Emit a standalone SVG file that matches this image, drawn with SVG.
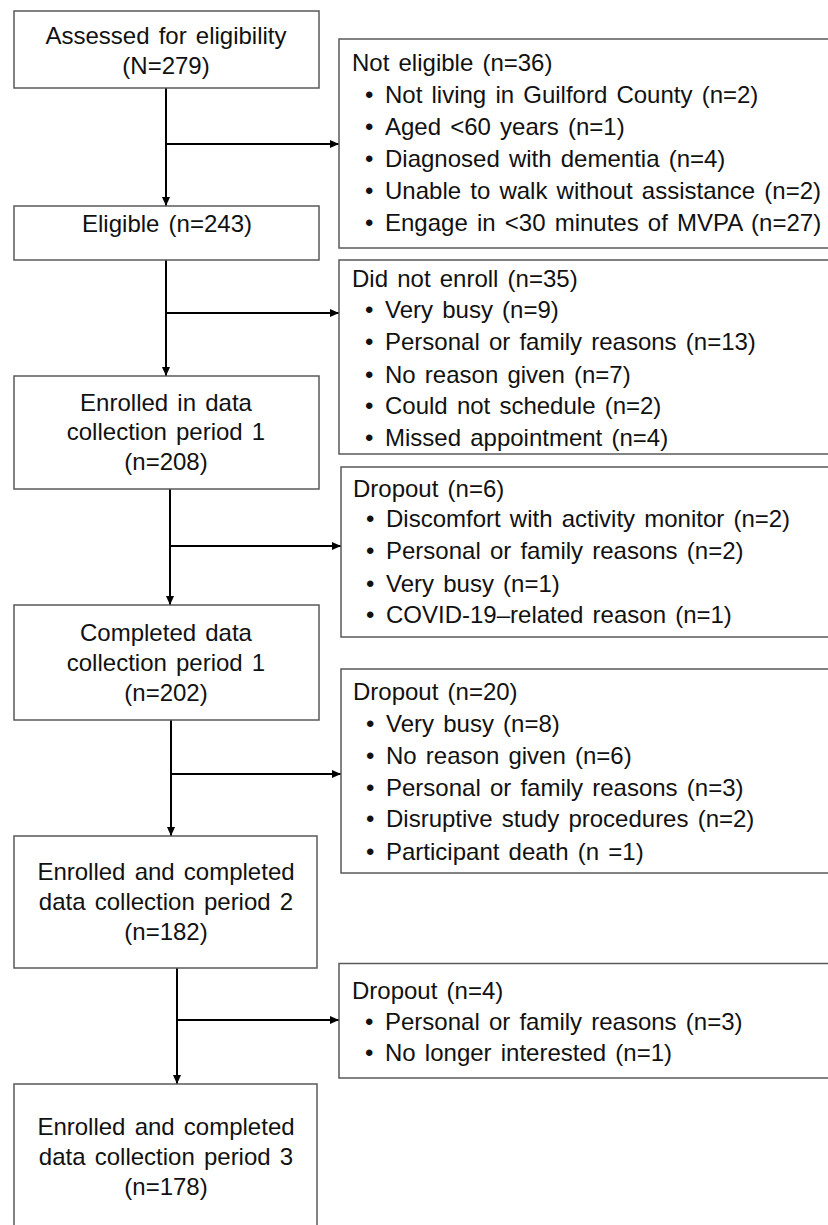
<svg xmlns="http://www.w3.org/2000/svg" width="828" height="1225" viewBox="0 0 828 1225">
<defs>
<style>
.box{fill:#fff;stroke:#5a5a5a;stroke-width:1.5}
.t{font-family:"Liberation Sans",Arial,sans-serif;font-size:24px;fill:#111;word-spacing:2.5px}
.c{text-anchor:middle}
.ln{stroke:#000;stroke-width:2;fill:none}
</style>
<marker id="ah" markerUnits="userSpaceOnUse" markerWidth="10" markerHeight="9" refX="9" refY="4" orient="auto">
<path d="M0,0 L9,4 L0,8 z" fill="#000"/>
</marker>
</defs>
<rect width="828" height="1225" fill="#fff"/>

<g id="connectors">
<line class="ln" x1="166" y1="88" x2="166" y2="206" marker-end="url(#ah)"/>
<line class="ln" x1="166" y1="144" x2="339" y2="144" marker-end="url(#ah)"/>
<line class="ln" x1="166" y1="260" x2="166" y2="376" marker-end="url(#ah)"/>
<line class="ln" x1="166" y1="313" x2="339" y2="313" marker-end="url(#ah)"/>
<line class="ln" x1="170" y1="489" x2="170" y2="605" marker-end="url(#ah)"/>
<line class="ln" x1="170" y1="546" x2="341" y2="546" marker-end="url(#ah)"/>
<line class="ln" x1="171" y1="720" x2="171" y2="836" marker-end="url(#ah)"/>
<line class="ln" x1="171" y1="774" x2="341" y2="774" marker-end="url(#ah)"/>
<line class="ln" x1="177" y1="968" x2="177" y2="1084" marker-end="url(#ah)"/>
<line class="ln" x1="177" y1="1020" x2="339" y2="1020" marker-end="url(#ah)"/>
</g>

<g id="assessed">
<rect class="box" x="14" y="11" width="305" height="77"/>
<text class="t c" x="166" y="44">Assessed for eligibility</text>
<text class="t c" x="166" y="74">(N=279)</text>
</g>

<g id="eligible">
<rect class="box" x="14" y="206" width="305" height="54"/>
<text class="t c" x="167" y="231.5">Eligible (n=243)</text>
</g>

<g id="enrolled1">
<rect class="box" x="14" y="376" width="305" height="113"/>
<text class="t c" x="166" y="410.5">Enrolled in data</text>
<text class="t c" x="166" y="440">collection period 1</text>
<text class="t c" x="166" y="470">(n=208)</text>
</g>

<g id="completed1">
<rect class="box" x="14" y="605" width="305" height="115"/>
<text class="t c" x="166" y="641">Completed data</text>
<text class="t c" x="166" y="671">collection period 1</text>
<text class="t c" x="166" y="701">(n=202)</text>
</g>

<g id="completed2">
<rect class="box" x="14" y="836" width="303" height="132"/>
<text class="t c" x="166" y="880">Enrolled and completed</text>
<text class="t c" x="166" y="910">data collection period 2</text>
<text class="t c" x="166" y="940">(n=182)</text>
</g>

<g id="completed3">
<rect class="box" x="14" y="1084" width="303" height="160"/>
<text class="t c" x="166" y="1135">Enrolled and completed</text>
<text class="t c" x="166" y="1165">data collection period 3</text>
<text class="t c" x="166" y="1195">(n=178)</text>
</g>

<g id="noteligible">
<rect class="box" x="339" y="39" width="500" height="209"/>
<text class="t" x="352" y="71">Not eligible (n=36)</text>
<text class="t" x="365" y="103">•</text><text class="t" x="385" y="103">Not living in Guilford County (n=2)</text>
<text class="t" x="365" y="135">•</text><text class="t" x="385" y="135">Aged &lt;60 years (n=1)</text>
<text class="t" x="365" y="167">•</text><text class="t" x="385" y="167">Diagnosed with dementia (n=4)</text>
<text class="t" x="365" y="199">•</text><text class="t" x="385" y="199">Unable to walk without assistance (n=2)</text>
<text class="t" x="365" y="231">•</text><text class="t" x="385" y="231">Engage in &lt;30 minutes of MVPA (n=27)</text>
</g>

<g id="didnotenroll">
<rect class="box" x="339" y="260" width="500" height="194"/>
<text class="t" x="352" y="287">Did not enroll (n=35)</text>
<text class="t" x="365" y="318">•</text><text class="t" x="385" y="318">Very busy (n=9)</text>
<text class="t" x="365" y="350">•</text><text class="t" x="385" y="350">Personal or family reasons (n=13)</text>
<text class="t" x="365" y="382.5">•</text><text class="t" x="385" y="382.5">No reason given (n=7)</text>
<text class="t" x="365" y="414">•</text><text class="t" x="385" y="414">Could not schedule (n=2)</text>
<text class="t" x="365" y="445.5">•</text><text class="t" x="385" y="445.5">Missed appointment (n=4)</text>
</g>

<g id="dropout1">
<rect class="box" x="341" y="467" width="500" height="170"/>
<text class="t" x="353" y="497">Dropout (n=6)</text>
<text class="t" x="366" y="527">•</text><text class="t" x="386" y="527">Discomfort with activity monitor (n=2)</text>
<text class="t" x="366" y="559">•</text><text class="t" x="386" y="559">Personal or family reasons (n=2)</text>
<text class="t" x="366" y="591.5">•</text><text class="t" x="386" y="591.5">Very busy (n=1)</text>
<text class="t" x="366" y="623">•</text><text class="t" x="386" y="623">COVID-19–related reason (n=1)</text>
</g>

<g id="dropout2">
<rect class="box" x="341" y="669" width="500" height="204"/>
<text class="t" x="353" y="700">Dropout (n=20)</text>
<text class="t" x="366" y="732">•</text><text class="t" x="386" y="732">Very busy (n=8)</text>
<text class="t" x="366" y="763.5">•</text><text class="t" x="386" y="763.5">No reason given (n=6)</text>
<text class="t" x="366" y="795.5">•</text><text class="t" x="386" y="795.5">Personal or family reasons (n=3)</text>
<text class="t" x="366" y="827">•</text><text class="t" x="386" y="827">Disruptive study procedures (n=2)</text>
<text class="t" x="366" y="860">•</text><text class="t" x="386" y="860">Participant death (n =1)</text>
</g>

<g id="dropout3">
<rect class="box" x="339" y="963.5" width="500" height="114.5"/>
<text class="t" x="352" y="998.5">Dropout (n=4)</text>
<text class="t" x="365" y="1030">•</text><text class="t" x="385" y="1030">Personal or family reasons (n=3)</text>
<text class="t" x="365" y="1061">•</text><text class="t" x="385" y="1061">No longer interested (n=1)</text>
</g>
</svg>
